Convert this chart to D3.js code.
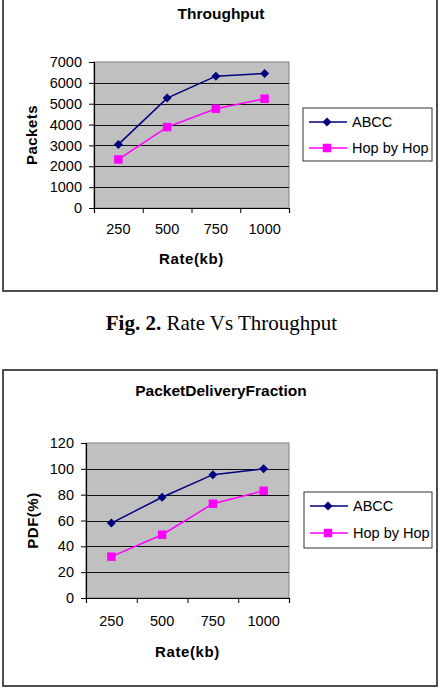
<!DOCTYPE html>
<html>
<head>
<meta charset="utf-8">
<script src="https://cdn.jsdelivr.net/npm/d3@7"></script>
<style>
  html, body { margin: 0; padding: 0; background: #fff; }
  svg { display: block; }
  text { font-family: "Liberation Sans", Arial, sans-serif; fill: #000; }
</style>
</head>
<body>
<svg id="chart" width="440" height="694"></svg>
<script>
// ---- data ----
const categories = ["250", "500", "750", "1000"];
const seriesNames = ["ABCC", "Hop by Hop"];
const throughputABCC = [3050, 5270, 6320, 6450];
const throughputHop = [2330, 3880, 4760, 5240];
const pdfABCC = [58, 78, 95.5, 100];
const pdfHop = [32, 49, 73, 83];
const throughputTicks = [0, 1000, 2000, 3000, 4000, 5000, 6000, 7000];
const pdfTicks = [0, 20, 40, 60, 80, 100, 120];

const colors = ["#000080", "#FF00FF"];
const svg = d3.select("#chart");
const FONT = "Liberation Sans, Arial, sans-serif";
const DIAMOND = " rotate(45) scale(0.9)";

function marker(sel, si) {
  sel.attr("d", d3.symbol(d3.symbolSquare, si === 0 ? 50 : 72)())
    .attr("fill", colors[si]);
}

function drawChart(cfg) {
  const g = svg.append("g");
  g.append("rect")
    .attr("x", cfg.frame[0]).attr("y", cfg.frame[1])
    .attr("width", cfg.frame[2] - cfg.frame[0]).attr("height", cfg.frame[3] - cfg.frame[1])
    .attr("fill", "#fff").attr("stroke", "#222").attr("stroke-width", 1.6);

  const L = cfg.plot[0], T = cfg.plot[1], R = cfg.plot[2], B = cfg.plot[3];
  const x = d3.scaleBand().domain(categories).range([L, R]).paddingInner(0).paddingOuter(0);
  const xEdge = d3.scaleLinear().domain([0, categories.length]).range([L, R]);
  const y = d3.scaleLinear().domain([0, cfg.yMax]).range([B, T]);

  g.append("rect").attr("x", L).attr("y", T).attr("width", R - L).attr("height", B - T)
    .attr("fill", "#c0c0c0").attr("stroke", "#808080").attr("stroke-width", 1);

  g.append("g").selectAll("line")
    .data(cfg.ticks.filter(d => d > 0 && d < cfg.yMax))
    .join("line")
    .attr("x1", L).attr("x2", R)
    .attr("y1", d => Math.round(y(d)) + 0.5).attr("y2", d => Math.round(y(d)) + 0.5)
    .attr("stroke", "#111").attr("stroke-width", 1);

  const yAxis = g.append("g").attr("transform", `translate(${L},0)`)
    .call(d3.axisLeft(y).tickValues(cfg.ticks).tickSize(5).tickPadding(cfg.yPad).tickFormat(d3.format("d")));
  yAxis.select(".domain").attr("stroke", "#000").attr("stroke-width", 1.2);
  yAxis.selectAll(".tick line").attr("stroke", "#000");
  yAxis.selectAll(".tick text").attr("font-family", FONT).attr("font-size", 14.5);

  const xAxis = g.append("g").attr("transform", `translate(0,${B})`)
    .call(d3.axisBottom(xEdge).tickValues(d3.range(categories.length + 1)).tickSize(5).tickFormat(""));
  xAxis.select(".domain").attr("stroke", "#000").attr("stroke-width", 1.2);
  xAxis.selectAll(".tick line").attr("stroke", "#000");

  const xLab = g.append("g").attr("transform", `translate(0,${B})`)
    .call(d3.axisBottom(x).tickSize(0).tickPadding(cfg.xPad));
  xLab.select(".domain").remove();
  xLab.selectAll(".tick text").attr("font-family", FONT).attr("font-size", 14.5);

  g.append("text").attr("x", cfg.titleX).attr("y", cfg.titleY).attr("text-anchor", "middle")
    .attr("font-size", 15.5).attr("font-weight", "bold").text(cfg.title);
  g.append("text").attr("x", (L + R) / 2).attr("y", cfg.xTitleY).attr("text-anchor", "middle")
    .attr("font-size", 15).attr("font-weight", "bold").attr("letter-spacing", 0.6).text("Rate(kb)");
  g.append("text").attr("transform", `translate(${cfg.yTitleX},${(T + B) / 2}) rotate(-90)`)
    .attr("text-anchor", "middle")
    .attr("font-size", 15).attr("font-weight", "bold").attr("letter-spacing", 0.5).text(cfg.yTitle);

  const cx = i => x(categories[i]) + x.bandwidth() / 2;
  const line = d3.line().x((d, i) => cx(i)).y(d => y(d));
  cfg.series.forEach((vals, si) => {
    g.append("path").datum(vals).attr("d", line)
      .attr("fill", "none").attr("stroke", colors[si]).attr("stroke-width", 1.5);
  });
  cfg.series.forEach((vals, si) => {
    g.append("g").selectAll("path").data(vals).join("path")
      .call(marker, si)
      .attr("transform", (d, i) => `translate(${cx(i)},${y(d)})` + (si === 0 ? DIAMOND : ""));
  });

  const lg = cfg.legend;
  g.append("rect").attr("x", lg.x0).attr("y", lg.y0).attr("width", lg.x1 - lg.x0).attr("height", lg.y1 - lg.y0)
    .attr("fill", "#fff").attr("stroke", "#333").attr("stroke-width", 1);
  seriesNames.forEach((name, si) => {
    const yy = lg.rows[si];
    g.append("line").attr("x1", lg.x0 + 6).attr("x2", lg.x0 + 44).attr("y1", yy).attr("y2", yy)
      .attr("stroke", colors[si]).attr("stroke-width", 1.5);
    g.append("path").call(marker, si)
      .attr("transform", `translate(${lg.x0 + 24},${yy})` + (si === 0 ? DIAMOND : ""));
    g.append("text").attr("x", lg.x0 + 49).attr("y", yy).attr("dy", "0.36em")
      .attr("font-size", 14.5).text(name);
  });
}

drawChart({
  frame: [3, -2, 437, 291],
  plot: [94, 62, 289, 208],
  yMax: 7000, ticks: throughputTicks,
  series: [throughputABCC, throughputHop],
  title: "Throughput", titleX: 221, titleY: 19,
  xTitleY: 264, yTitleX: 37, yTitle: "Packets",
  yPad: 7, xPad: 16,
  legend: { x0: 303, y0: 108, x1: 432, y1: 161, rows: [122, 148] }
});

drawChart({
  frame: [3, 370, 437, 686],
  plot: [86, 443, 289, 598],
  yMax: 120, ticks: pdfTicks,
  series: [pdfABCC, pdfHop],
  title: "PacketDeliveryFraction", titleX: 221, titleY: 396,
  xTitleY: 657, yTitleX: 38, yTitle: "PDF(%)",
  yPad: 7, xPad: 18,
  legend: { x0: 304, y0: 492, x1: 432, y1: 548, rows: [506, 533] }
});

const cap = svg.append("text").attr("x", 221.5).attr("y", 330).attr("text-anchor", "middle")
  .attr("font-family", "Liberation Serif, Times New Roman, serif").attr("font-size", 21)
  .style("font-family", "Liberation Serif, Times New Roman, serif");
cap.append("tspan").attr("font-weight", "bold").text("Fig. 2.");
cap.append("tspan").text(" Rate Vs Throughput");
</script>
</body>
</html>
